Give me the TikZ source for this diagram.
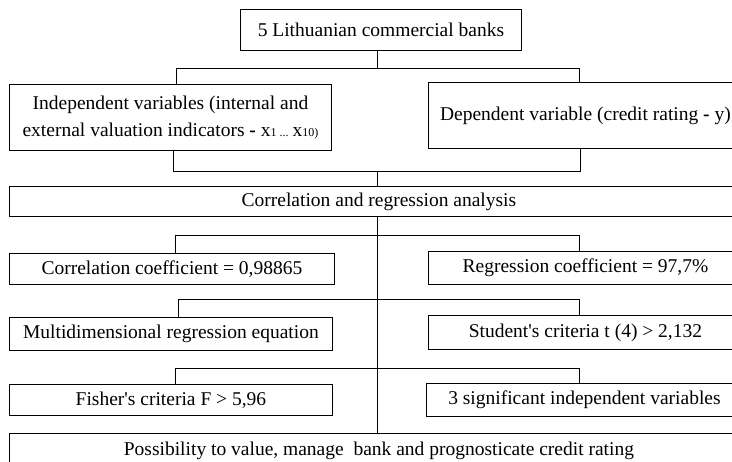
\documentclass[tikz,border=0pt]{standalone}
\usepackage{fontspec}
\setmainfont{Liberation Serif}[Ligatures=TeXOff]

\begin{document}
\begin{tikzpicture}[x=1pt,y=-1pt,
    box/.style={draw, line width=0.9pt, inner sep=0pt, anchor=north west,
        font=\fontsize{19.5}{27}\selectfont, align=center},
    link/.style={line width=0.9pt}]

% Page size and the parts of the frame that run off it
\useasboundingbox (0,0) rectangle (732,462);
\clip (0,0) rectangle (732,462);

% Widths of the two columns
\def\leftw{323}
\def\rightw{314}
\def\fullw{739}

% Top of the tree
\node[box, minimum width=281pt, minimum height=41pt] (banks) at (240,9)
    {5 Lithuanian commercial banks};
\node[box, minimum width=322pt, minimum height=66pt] (indep) at (9,84)
    {Independent variables (internal and\\
     external valuation indicators \textbf{-} x{\fontsize{12}{14}\selectfont 1 ... }x{\fontsize{12}{14}\selectfont 10)}};
\node[box, minimum width=\rightw pt, minimum height=66pt] (dep) at (428,82)
    {Dependent variable (credit rating \textbf{-} y)};
\node[box, minimum width=\fullw pt, minimum height=30pt] (analysis) at (9,186)
    {Correlation and regression analysis};

% Results, left and right column
\node[box, minimum width=325pt, minimum height=31pt] (corrcoef) at (9,253)
    {Correlation coefficient = 0,98865};
\node[box, minimum width=\rightw pt, minimum height=33pt] (regcoef) at (428,251)
    {Regression coefficient = 97,7\%};
\node[box, minimum width=\leftw pt, minimum height=33pt] (multi) at (9,317)
    {Multidimensional regression equation};
\node[box, minimum width=\rightw pt, minimum height=34pt] (student) at (428,315)
    {Student's criteria t (4) > 2,132};
\node[box, minimum width=\leftw pt, minimum height=31pt] (fisher) at (9,384)
    {Fisher's criteria F > 5,96};
\node[box, minimum width=316pt, minimum height=33pt] (signif) at (426,383)
    {3 significant independent variables};

% Conclusion at the bottom
\node[box, minimum width=\fullw pt, minimum height=34pt] (final) at (9,433)
    {Possibility to value, manage\ \ bank and prognosticate credit rating};

% Junctions of the connectors
\coordinate (spine) at (377,0);
\coordinate (bl1) at (176,68);  \coordinate (br1) at (579,68);
\coordinate (bl2) at (173,171); \coordinate (br2) at (580,171);

\draw[link] (spine |- banks.south) -- (spine |- bl1);
\draw[link] (bl1 |- indep.north) -- (bl1) -- (br1) -- (br1 |- dep.north);
\draw[link] (bl2 |- indep.south) -- (bl2) -- (br2) -- (br2 |- dep.south);
\draw[link] (spine |- bl2) -- (spine |- analysis.north);
\draw[link] (spine |- analysis.south) -- (spine |- final.north);

\foreach \i/\yy/\xl/\l/\r in {3/235/175/corrcoef/regcoef,
                               4/299/178/multi/student,
                               5/368/175/fisher/signif} {
    \coordinate (bl\i) at (\xl,\yy);
    \coordinate (br\i) at (579,\yy);
    \draw[link] (bl\i |- \l.north) -- (bl\i) -- (br\i) -- (br\i |- \r.north);
}

\end{tikzpicture}
\end{document}
